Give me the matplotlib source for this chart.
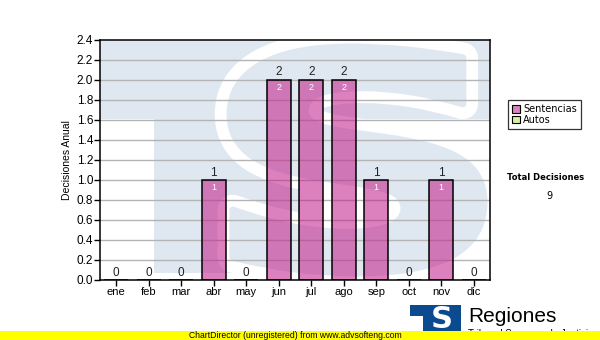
""" Decisiones anuales por mes """
import numpy as np
import matplotlib
matplotlib.use("Agg")
import matplotlib.pyplot as plt
from matplotlib.patches import Rectangle, PathPatch, Patch
from matplotlib.textpath import TextPath
from matplotlib.font_manager import FontProperties
from matplotlib.transforms import Affine2D

# Data
months = ["ene", "feb", "mar", "abr", "may", "jun", "jul", "ago", "sep", "oct", "nov", "dic"]
sentencias = [0, 0, 0, 1, 0, 2, 2, 2, 1, 0, 1, 0]
autos = [0, 0, 0, 0, 0, 0, 0, 0, 0, 0, 0, 0]
total = 9
yticks = np.arange(0, 2.41, 0.2)

plt.rcParams['font.family'] = ['Liberation Sans', 'DejaVu Sans']

W, H = 600, 340
fig = plt.figure(figsize=(6, 3.4), dpi=100)
ax = fig.add_axes([100/W, 1-280/H, 390/W, 240/H])
ax.set_xlim(-0.5, 11.5)
ax.set_ylim(0, 2.4)

def px(x, y):
    # pixel position -> data coords of the plot area
    return (x-100)/32.5 - 0.5, (280-y)/100.

# watermark: T and S of the logo
wm = '#dfe8f1'
x0, y0 = px(100, 119)
ax.add_patch(Rectangle((x0, y0), 12, 0.79, color=wm, lw=0, zorder=0.2))
x0, y0 = px(154, 273)
x1, y1 = px(300, 119)
ax.add_patch(Rectangle((x0, y0), x1-x0, y1-y0, color=wm, lw=0, zorder=0.2))

tp = TextPath((0, 0), "S", size=100, prop=FontProperties(family="DejaVu Sans", weight="bold"))
ext = tp.get_extents()
sx0, sy0 = px(230, 273)
sx1, sy1 = px(484, 47)
tr = Affine2D().translate(-ext.x0, -ext.y0).scale((sx1-sx0)/ext.width, (sy1-sy0)/ext.height).translate(sx0, sy0)
ax.add_patch(PathPatch(tp, transform=tr+ax.transData, facecolor='white', edgecolor='white', lw=22,
                       joinstyle='round', zorder=0.3))
ax.add_patch(PathPatch(tp, transform=tr+ax.transData, facecolor=wm, edgecolor=wm, lw=5,
                       joinstyle='round', zorder=0.4))

# grid
for v in yticks[1:-1]:
    ax.axhline(v, color='#b4b4b4', lw=1, zorder=1)

x = np.arange(len(months))
ax.bar(x, sentencias, width=0.73, color='#c41d8b', alpha=0.56, zorder=2)
ax.bar(x, sentencias, width=0.73, facecolor='none', edgecolor='black', lw=1.1, zorder=3)

for i, v in enumerate(sentencias):
    ax.text(i, v + 0.015, "%d" % v, ha='center', va='bottom', fontsize=8.5, color='#222222', zorder=4)
    if v > 0:
        ax.text(i, v - 0.035, "%d" % v, ha='center', va='top', fontsize=6.5, color='white', zorder=4)

ax.set_xticks(x)
ax.set_xticklabels(months, fontsize=8)
ax.set_yticks(yticks)
ax.set_yticklabels(["%.1f" % v for v in yticks], fontsize=8.5)
ax.tick_params(length=4, width=1, color='black', pad=1)
for s in ax.spines.values():
    s.set_color('black')
    s.set_linewidth(1.1)
    s.set_zorder(5)
ax.set_ylabel("Decisiones Anual", fontsize=7.5, labelpad=3)

# legend
handles = [Patch(facecolor='#dd80bd', edgecolor='black', lw=0.8, label='Sentencias'),
           Patch(facecolor='#d8eea0', edgecolor='black', lw=0.8, label='Autos')]
leg = fig.legend(handles=handles, loc='upper left', bbox_to_anchor=(508/W, 1-100/H),
                 frameon=True, fancybox=False, borderaxespad=0,
                 handlelength=0.8, handleheight=0.8, handletextpad=0.3,
                 labelspacing=0.05, borderpad=0.45, prop={'family': 'DejaVu Sans', 'size': 7})
leg.get_frame().set_edgecolor('black')
leg.get_frame().set_linewidth(0.9)

fig.text(546/W, 1-178/H, "Total Decisiones", ha='center', va='center', fontsize=6,
         fontweight='bold', family='DejaVu Sans')
fig.text(549/W, 1-196/H, "%d" % total, ha='center', va='center', fontsize=7, family='DejaVu Sans')

# logo bottom right
lax = fig.add_axes([0, 0, 1, 1], zorder=-1)
lax.set_xlim(0, W)
lax.set_ylim(H, 0)
lax.axis('off')
lax.add_patch(Rectangle((410, 305), 51, 26, color='#0b4a8f', lw=0))
lax.add_patch(Rectangle((410, 316), 13, 16, color='white', lw=0))
lax.text(442, 319, "S", ha='center', va='center', fontsize=22, fontweight='bold',
         family='DejaVu Sans', color='white')
lax.text(468, 316, "Regiones", ha='left', va='center', fontsize=15, color='black')
lax.text(468, 334, "Tribunal Supremo de Justicia", ha='left', va='center', fontsize=7, color='black')

fax = fig.add_axes([0, 0, 1, 1], zorder=10)
fax.set_xlim(0, W)
fax.set_ylim(H, 0)
fax.axis('off')
fax.add_patch(Rectangle((0, 331), W, 9, color='#ffff00', lw=0))
fax.text(295, 335.5, "ChartDirector (unregistered) from www.advsofteng.com", ha='center', va='center',
         fontsize=6.2, color='black')

fig.savefig("out.png", dpi=100)
